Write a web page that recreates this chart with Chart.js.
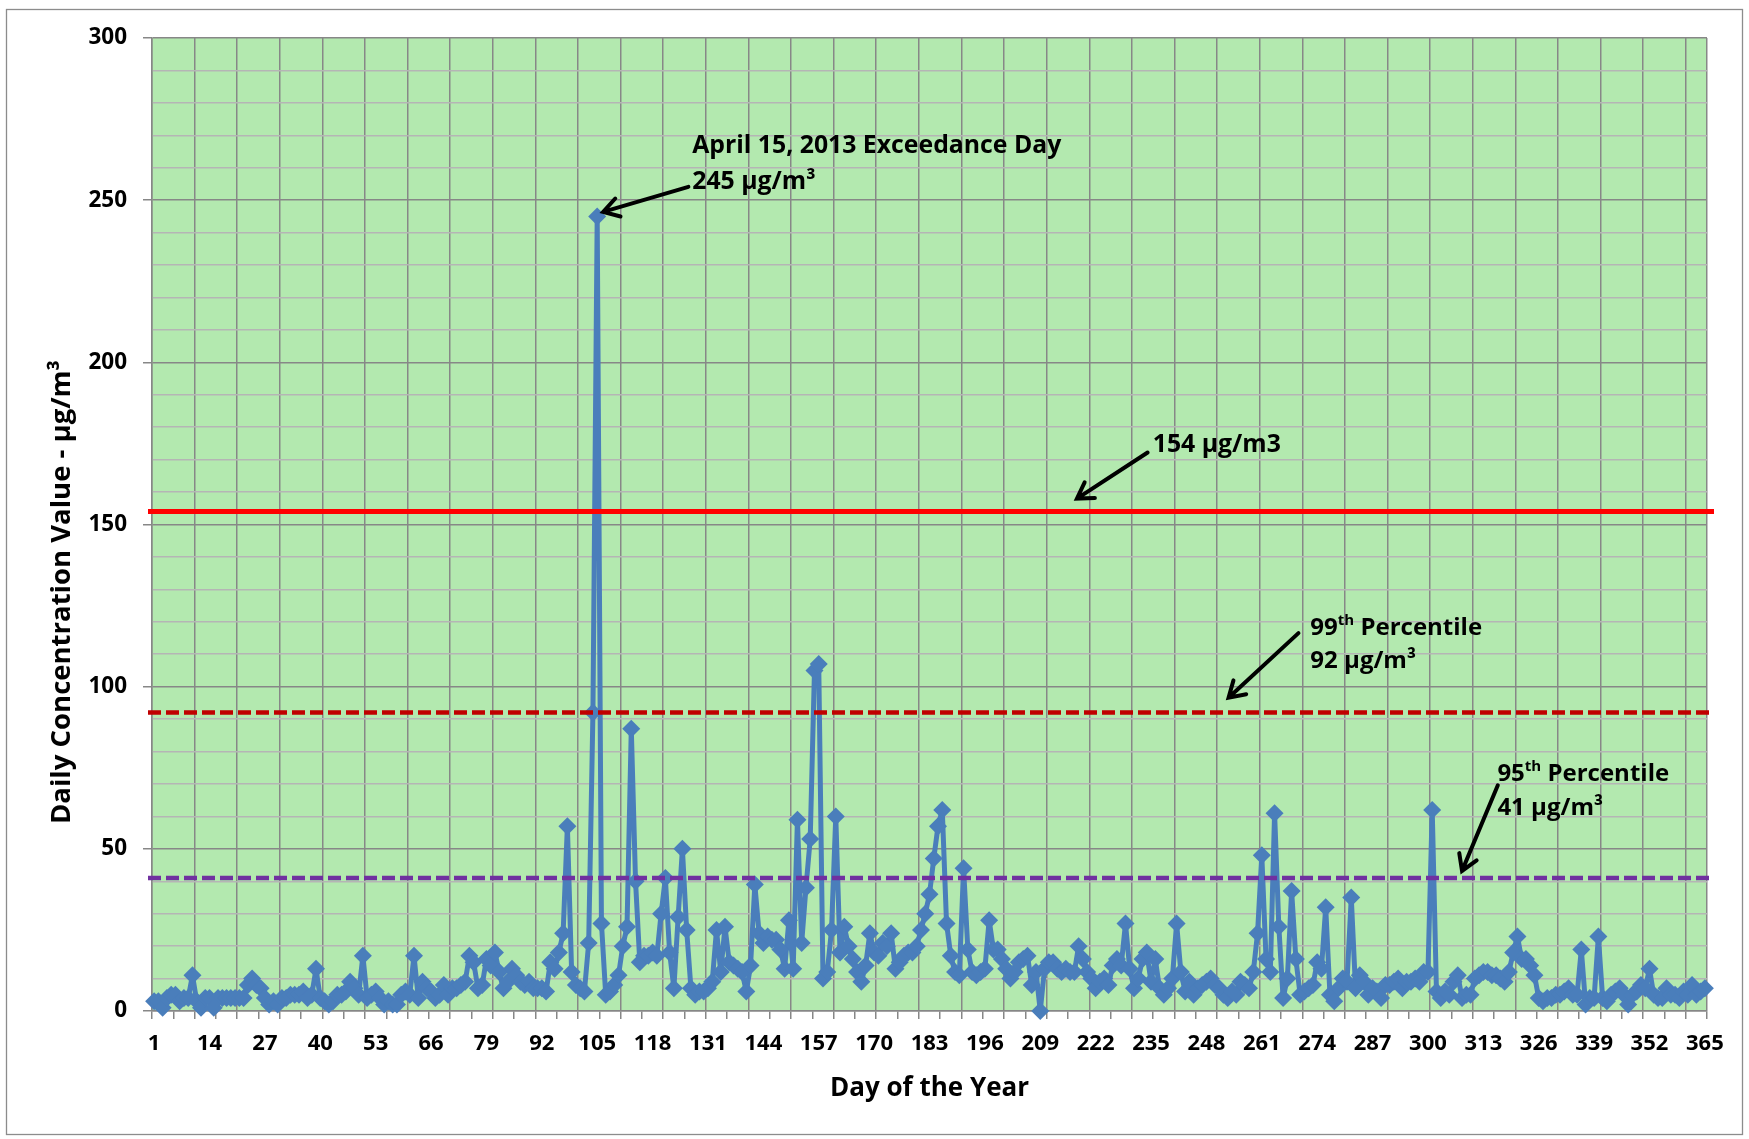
<!DOCTYPE html>
<html>
<head>
<meta charset="utf-8">
<script src="https://cdn.jsdelivr.net/npm/chart.js@4.4.1/dist/chart.umd.min.js"></script>
<style>
  html, body { margin: 0; padding: 0; background: #fff; }
  #wrap { width: 1749px; height: 1139px; }
</style>
</head>
<body>
<div id="wrap"><canvas id="dailyChart" width="1749" height="1139"></canvas></div>
<script>
// daily PM concentration, one value per day of the year (µg/m³)
const janMar = [
  3, 3, 1, 4, 5, 5, 3, 4, 4, 11,
  3, 1, 4, 4, 1, 4, 4, 4, 4, 4,
  4, 4, 8, 10, 8, 7, 4, 2, 3, 2,
  4, 4, 5, 5, 5, 6, 4, 5, 13, 4,
  3, 2, 3, 5, 5, 6, 9, 7, 5, 17,
  4, 5, 6, 4, 2, 3, 2, 2, 5, 6,
  5, 17, 4, 9, 7, 6, 4, 5, 8, 5,
  7, 7, 8, 9, 17, 15, 7, 8, 16, 14,
  18, 12, 7, 9, 13, 11, 9, 8, 9, 7
];
const aprJun = [
  7, 7, 6, 15, 13, 18, 24, 57, 12, 8,
  7, 6, 21, 92, 245, 27, 5, 6, 8, 11,
  20, 26, 87, 40, 15, 17, 17, 18, 17, 30,
  41, 18, 7, 29, 50, 25, 7, 5, 6, 6,
  7, 9, 25, 12, 26, 15, 14, 13, 12, 6,
  14, 39, 24, 21, 23, 22, 22, 19, 13, 28,
  13, 59, 21, 38, 53, 105, 107, 10, 12, 25,
  60, 18, 26, 20, 16, 12, 9, 14, 24, 18,
  17, 21, 20, 24, 13, 15, 17, 18, 18, 20,
  25
];
const julSep = [
  30, 36, 47, 57, 62, 27, 17, 12, 11,
  44, 19, 12, 11, 12, 13, 28, 19, 19, 16,
  13, 10, 12, 15, 16, 17, 8, 12, 0, 13,
  15, 15, 13, 12, 13, 12, 12, 20, 16, 12,
  10, 7, 9, 10, 8, 14, 16, 14, 27, 13,
  7, 10, 16, 18, 9, 16, 7, 5, 7, 10,
  27, 12, 6, 9, 5, 7, 8, 9, 10, 8,
  7, 5, 4, 6, 5, 9, 8, 7, 12, 24,
  48, 16, 12, 61, 26, 4, 10, 37, 16, 5,
  6, 7, 8
];
const octDec = [
  15, 13, 32, 5, 3, 7, 10,
  9, 35, 7, 11, 9, 5, 7, 6, 4, 8,
  8, 9, 10, 7, 9, 9, 10, 9, 12, 12,
  62, 6, 4, 6, 5, 9, 11, 4, 5, 5,
  10, 11, 12, 12, 11, 11, 10, 9, 12, 18,
  23, 16, 16, 14, 11, 4, 3, 4, 4, 5,
  5, 6, 7, 5, 5, 19, 2, 4, 4, 23,
  4, 3, 5, 6, 7, 5, 2, 5, 6, 8,
  7, 13, 5, 4, 4, 7, 5, 5, 4, 6,
  5, 8, 5, 6, 7
];
const concentration = [...janMar, ...aprJun, ...julSep, ...octDec];
const days = concentration.map((_, i) => String(i + 1));

// reference levels
const exceedLevel = 154;
const pct99 = 92;
const pct95 = 41;

const yTicks = [0, 50, 100, 150, 200, 250, 300];

const FONT = '"Open Sans"';
const gridDark = '#878787';
const gridLight = '#b5b5b5';
const plotGreen = '#b3e9af';
const seriesBlue = '#4a7ebb';

// threshold lines drawn across the plot
const refLines = [
  { value: exceedLevel, color: '#ff0000', width: 5, dash: [] },
  { value: pct99, color: '#c00000', width: 4.5, dash: [13, 5] },
  { value: pct95, color: '#7030a0', width: 4.5, dash: [13, 5] }
];

// callouts: text start, arrow tail and arrow tip, as [day, value]
const callouts = [
  { lines: [[{ t: 'April 15, 2013 Exceedance Day' }], [{ t: '245 µg/m³' }]],
    size: 24.8, text: [127.3, 264.4], step: 36, tail: [126.4, 254.1], tip: [106.4, 246.4] },
  { lines: [[{ t: '154 µg/m3' }]],
    size: 24.8, text: [235.4, 172.3], step: 0, tail: [234.2, 172.2], tip: [217.6, 158] },
  { lines: [[{ t: '99' }, { t: 'th', sup: true }, { t: ' Percentile' }], [{ t: '92 µg/m³' }]],
    size: 24, text: [272.4, 115.8], step: 33, tail: [269.6, 116.5], tip: [253.2, 96.6] },
  { lines: [[{ t: '95' }, { t: 'th', sup: true }, { t: ' Percentile' }], [{ t: '41 µg/m³' }]],
    size: 24, text: [316.3, 70.8], step: 34, tail: [316.4, 69.6], tip: [308, 43.2] }
];

const backdrop = {
  id: 'backdrop',
  beforeDraw(chart) {
    const { ctx, chartArea: a } = chart;
    ctx.save();
    ctx.fillStyle = '#fff';
    ctx.fillRect(0, 0, chart.width, chart.height);
    ctx.strokeStyle = '#8c8c8c';
    ctx.lineWidth = 1.3;
    ctx.strokeRect(6.5, 9.5, chart.width - 13, chart.height - 14);
    ctx.fillStyle = plotGreen;
    ctx.fillRect(a.left, a.top, a.right - a.left, a.bottom - a.top);
    ctx.restore();
  }
};

function drawRich(ctx, parts, x, y, size) {
  let cx = x;
  for (const p of parts) {
    ctx.font = p.sup ? `bold 15px ${FONT}` : `bold ${size}px ${FONT}`;
    ctx.fillText(p.t, cx, p.sup ? y - 10 : y);
    cx += ctx.measureText(p.t).width;
  }
}

function drawArrow(ctx, x1, y1, x2, y2) {
  const ang = Math.atan2(y2 - y1, x2 - x1);
  const head = 18, spread = 0.55;
  ctx.beginPath();
  ctx.moveTo(x1, y1);
  ctx.lineTo(x2, y2);
  ctx.moveTo(x2 - head * Math.cos(ang - spread), y2 - head * Math.sin(ang - spread));
  ctx.lineTo(x2, y2);
  ctx.lineTo(x2 - head * Math.cos(ang + spread), y2 - head * Math.sin(ang + spread));
  ctx.stroke();
}

const overlays = {
  id: 'overlays',
  afterDatasetsDraw(chart) {
    const { ctx, chartArea: a, scales: { x, y } } = chart;
    const px = d => x.getPixelForValue(d - 1);
    ctx.save();
    for (const r of refLines) {
      const yy = y.getPixelForValue(r.value);
      ctx.beginPath();
      ctx.strokeStyle = r.color;
      ctx.lineWidth = r.width;
      ctx.setLineDash(r.dash);
      ctx.moveTo(a.left - 4, yy);
      ctx.lineTo(a.right + 7, yy);
      ctx.stroke();
    }
    ctx.setLineDash([]);
    ctx.fillStyle = '#000';
    ctx.strokeStyle = '#000';
    ctx.lineWidth = 4;
    ctx.lineCap = 'round';
    ctx.textBaseline = 'alphabetic';
    ctx.textAlign = 'left';
    for (const c of callouts) {
      const tx = px(c.text[0]);
      let ty = y.getPixelForValue(c.text[1]);
      for (const line of c.lines) {
        drawRich(ctx, line, tx, ty, c.size);
        ty += c.step;
      }
      drawArrow(ctx, px(c.tail[0]), y.getPixelForValue(c.tail[1]),
                px(c.tip[0]), y.getPixelForValue(c.tip[1]));
    }
    ctx.restore();
  },
  afterDraw(chart) {
    const { ctx, chartArea: a } = chart;
    ctx.save();
    ctx.fillStyle = '#000';
    ctx.textAlign = 'center';
    ctx.textBaseline = 'middle';
    ctx.font = `bold 26px ${FONT}`;
    ctx.fillText('Day of the Year', (a.left + a.right) / 2, 1089);
    ctx.font = `bold 27.5px ${FONT}`;
    ctx.translate(62, 592);
    ctx.rotate(-Math.PI / 2);
    ctx.fillText('Daily Concentration Value - µg/m³', 0, 0);
    ctx.restore();
  }
};

function build() {
  Chart.defaults.font.family = FONT;
  new Chart(document.getElementById('dailyChart'), {
    type: 'line',
    data: {
      labels: days,
      datasets: [{
        data: concentration,
        borderColor: seriesBlue,
        backgroundColor: seriesBlue,
        borderWidth: 5,
        borderJoinStyle: 'round',
        tension: 0,
        pointStyle: 'rectRot',
        pointRadius: 9,
        pointBorderWidth: 0,
        pointBackgroundColor: seriesBlue,
        clip: false
      }]
    },
    options: {
      responsive: false,
      animation: false,
      events: [],
      layout: { padding: { left: 0, top: 38, right: 42, bottom: 0 } },
      plugins: { legend: { display: false }, tooltip: { enabled: false } },
      scales: {
        x: {
          type: 'category',
          offset: true,
          grid: {
            offset: true,
            color: c => (c.index === undefined || c.index % 10 === 0) ? gridDark : 'rgba(0,0,0,0)',
            lineWidth: 1.5,
            tickLength: 8,
            tickWidth: 1.5,
            tickColor: c => (c.index === undefined || c.index % 5 === 0) ? gridDark : 'rgba(0,0,0,0)'
          },
          border: { color: gridDark, width: 1.5 },
          ticks: {
            autoSkip: false,
            maxRotation: 0,
            padding: 12,
            color: '#000',
            font: { size: 22, weight: 'bold' },
            callback: (v, i) => (i % 13 === 0 ? days[i] : '')
          },
          afterFit: s => { s.height = 128; }
        },
        y: {
          min: 0,
          max: 300,
          ticks: {
            stepSize: 10,
            padding: 16,
            color: '#000',
            font: { size: 22.5, weight: 'bold' },
            callback: v => (yTicks.includes(v) ? String(v) : '')
          },
          grid: {
            color: c => (c.tick && yTicks.includes(c.tick.value)) ? gridDark : gridLight,
            lineWidth: 1.5,
            tickLength: 9,
            tickWidth: 1.5,
            tickColor: c => (c.tick && yTicks.includes(c.tick.value)) ? gridDark : 'rgba(0,0,0,0)'
          },
          border: { color: gridDark, width: 1.5 },
          afterFit: s => { s.width = 152; }
        }
      }
    },
    plugins: [backdrop, overlays]
  });
}

if (document.fonts && document.fonts.load) {
  Promise.all([
    document.fonts.load(`bold 24px ${FONT}`),
    document.fonts.load(`bold 15px ${FONT}`)
  ]).then(build, build);
} else {
  build();
}
</script>
</body>
</html>
